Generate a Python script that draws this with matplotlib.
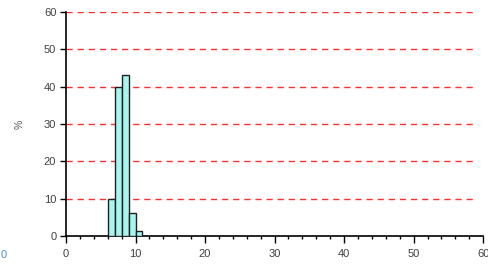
import matplotlib
matplotlib.use('Agg')
import matplotlib.pyplot as plt
import numpy as np

# histogram of values, bins of width 1
bin_left = [6, 7, 8, 9, 10]
percent = [10, 40, 43, 6.2, 1.3]

plt.rcParams['font.family'] = ['Liberation Sans', 'DejaVu Sans']

fig = plt.figure(figsize=(4.89, 2.73), dpi=100)
ax = fig.add_axes([0.135, 0.1355, 0.853, 0.8205])

ax.bar(bin_left, percent, width=1, align='edge', color='#a8f4ef',
       edgecolor='#202020', linewidth=1, zorder=3)

ax.set_xlim(0, 60)
ax.set_ylim(0, 60)
ax.set_xticks(np.arange(0, 61, 10))
ax.set_xticks(np.arange(0, 61, 2), minor=True)
ax.set_yticks(np.arange(0, 61, 10))

for y in range(10, 61, 10):
    ax.axhline(y, xmax=0.985, color='#ff3030', linestyle=(0, (4.5, 3.5)),
               linewidth=1, zorder=1)

for s in ['top', 'right']:
    ax.spines[s].set_visible(False)
for s in ['left', 'bottom']:
    ax.spines[s].set_linewidth(1.2)
    ax.spines[s].set_color('black')

ax.tick_params(axis='x', which='major', length=5, width=1, labelsize=8,
               labelcolor='#404040', pad=4)
ax.tick_params(axis='x', which='minor', length=2.5, width=1)
ax.tick_params(axis='y', which='major', length=4, width=1, labelsize=8,
               labelcolor='#404040', pad=3)

ax.set_ylabel('%', fontsize=7.5, color='#555555', labelpad=14)
fig.text(0.001, 0.055, '0', fontsize=8, color='#4a90c8')

fig.savefig('out.png', dpi=100)
